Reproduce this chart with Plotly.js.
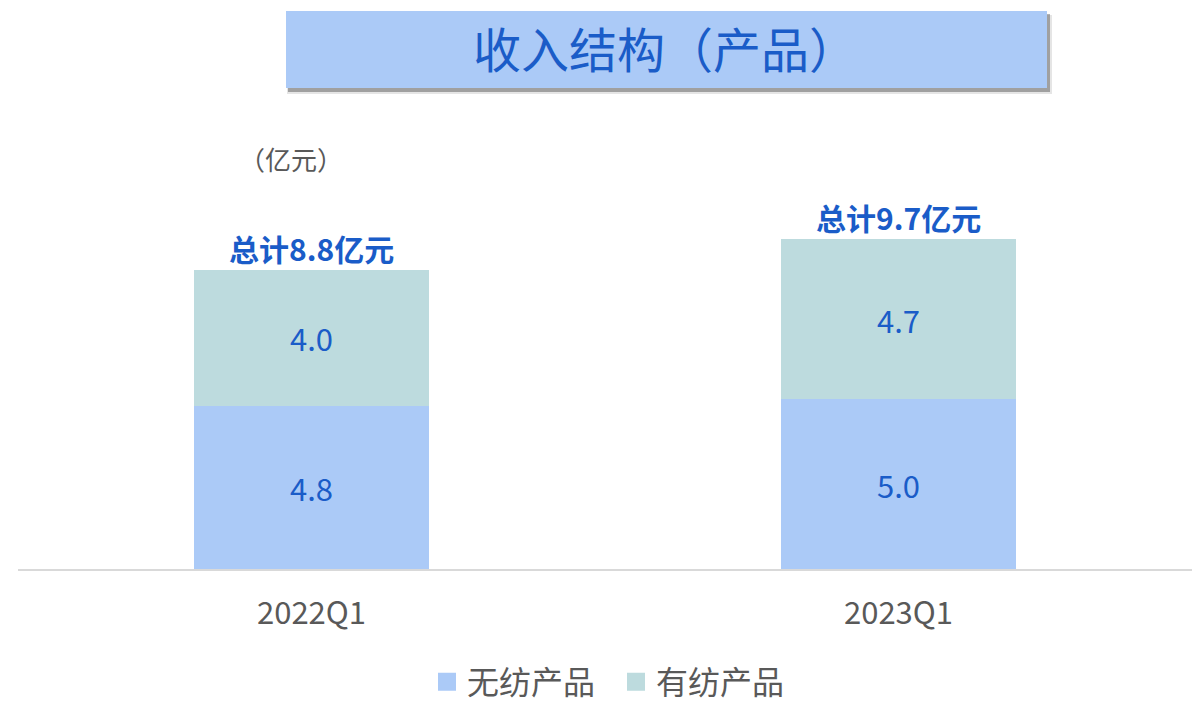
<!DOCTYPE html>
<html>
<head>
<meta charset="utf-8">
<script src="https://cdn.plot.ly/plotly-3.0.1.min.js"></script>
<style>
html,body{margin:0;padding:0;background:#fff;}
#chart{width:1192px;height:707px;}
</style>
</head>
<body>
<div id="chart"></div>
<script>
// ---- data ----
const categories = ['2022Q1', '2023Q1'];
const seriesNames = ['无纺产品', '有纺产品'];
const nonWoven = [4.8, 5.0];
const woven = [4.0, 4.7];
const totals = [8.8, 9.7];
const chartTitle = '收入结构（产品）';
const unitLabel = '（亿元）';

// ---- layout geometry (pixels) ----
const W = 1192, H = 707;
const mL = 18, mR = 0, mT = 100, mB = 138;
const plotW = W - mL - mR, plotH = H - mT - mB;
const px2x = p => (p - mL) / plotW;
const px2y = p => (H - mB - p) / plotH;

const FONT = '"Noto Sans CJK SC", "Noto Sans", sans-serif';
const BLUE_TXT = '#1a5cc8';
const GRAY_TXT = '#595959';

const traces = [
  {
    type: 'bar', name: seriesNames[0], x: categories, y: nonWoven,
    marker: {color: '#abcaf7'},
    text: nonWoven.map(v => v.toFixed(1)), textposition: 'inside',
    insidetextanchor: 'middle',
    textfont: {color: BLUE_TXT, size: 31, family: FONT},
    hoverinfo: 'skip'
  },
  {
    type: 'bar', name: seriesNames[1], x: categories, y: woven,
    marker: {color: '#bddbde'},
    text: woven.map(v => v.toFixed(1)), textposition: 'inside',
    insidetextanchor: 'middle',
    textfont: {color: BLUE_TXT, size: 31, family: FONT},
    hoverinfo: 'skip'
  }
];

const annotations = categories.map((c, i) => ({
  x: c, y: totals[i], xref: 'x', yref: 'y',
  text: '<b>总计' + totals[i].toFixed(1) + '亿元</b>',
  showarrow: false, yanchor: 'bottom', yshift: -2,
  font: {color: BLUE_TXT, size: 30, family: FONT}
}));
annotations.push({
  x: px2x(291), y: px2y(158), xref: 'paper', yref: 'paper',
  text: unitLabel, showarrow: false, xanchor: 'center', yanchor: 'middle',
  font: {color: GRAY_TXT, size: 26, family: FONT}
});
annotations.push({
  x: px2x(665), y: px2y(47), xref: 'paper', yref: 'paper',
  text: chartTitle, showarrow: false, xanchor: 'center', yanchor: 'middle',
  font: {color: BLUE_TXT, size: 48, family: FONT}
});

const shapes = [
  // soft shadow layers
  {type: 'rect', xref: 'paper', yref: 'paper', layer: 'below',
   x0: px2x(287), x1: px2x(1052), y0: px2y(94), y1: px2y(15),
   fillcolor: 'rgba(0,0,0,0.10)', line: {width: 0}},
  {type: 'rect', xref: 'paper', yref: 'paper', layer: 'below',
   x0: px2x(288), x1: px2x(1050), y0: px2y(92), y1: px2y(14),
   fillcolor: 'rgba(0,0,0,0.30)', line: {width: 0}},
  // title box
  {type: 'rect', xref: 'paper', yref: 'paper', layer: 'below',
   x0: px2x(286), x1: px2x(1047), y0: px2y(88), y1: px2y(11),
   fillcolor: '#abcaf7', line: {width: 0}}
];

const layout = {
  width: W, height: H,
  margin: {l: mL, r: mR, t: mT, b: mB, autoexpand: false},
  paper_bgcolor: '#ffffff', plot_bgcolor: '#ffffff',
  barmode: 'stack', bargap: 0.6,
  showlegend: true,
  legend: {
    orientation: 'h', x: px2x(616), xanchor: 'center',
    y: px2y(682), yanchor: 'middle',
    entrywidth: 144, entrywidthmode: 'pixels',
    font: {color: GRAY_TXT, size: 32, family: FONT},
    traceorder: 'normal', itemclick: false
  },
  xaxis: {
    type: 'category', range: [-0.5, 1.5], automargin: false,
    showline: true, linecolor: '#d9d9d9', linewidth: 2,
    ticks: '', showgrid: false, zeroline: false,
    tickfont: {color: GRAY_TXT, size: 31, family: FONT},
    ticklabelstandoff: 16
  },
  yaxis: {
    range: [0, plotH / 34], showgrid: false, zeroline: false, automargin: false,
    showticklabels: false, showline: false, ticks: ''
  },
  annotations: annotations,
  shapes: shapes,
  font: {family: FONT}
};

Plotly.newPlot('chart', traces, layout, {displayModeBar: false, staticPlot: true}).then(gd => {
  // enlarge legend swatches to match the reference's bigger squares
  gd.querySelectorAll('.legend .legendpoints path').forEach(p => {
    const t = p.getAttribute('transform') || '';
    p.setAttribute('transform', t + ' scale(1.5)');
  });
});
</script>
</body>
</html>
